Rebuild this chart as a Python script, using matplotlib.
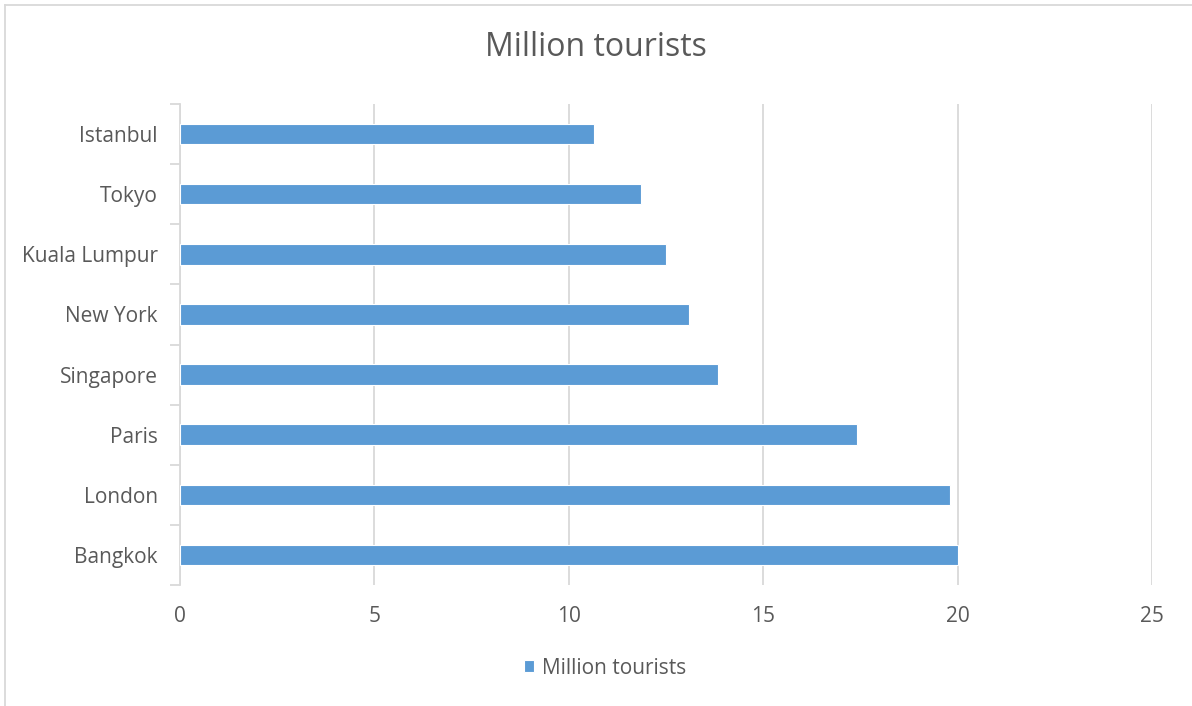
import matplotlib.pyplot as plt
from matplotlib.lines import Line2D

cities = ["Bangkok", "London", "Paris", "Singapore", "New York",
          "Kuala Lumpur", "Tokyo", "Istanbul"]
tourists = [20.0, 19.8, 17.4, 13.85, 13.1, 12.5, 11.85, 10.65]
x_ticks = [0, 5, 10, 15, 20, 25]

bar_color = "#5b9bd5"
text_color = "#595959"
grid_color = "#d9d9d9"

plt.rcParams['font.family'] = ['Open Sans', 'DejaVu Sans']

fig = plt.figure(figsize=(11.92, 7.06), dpi=100)
ax = fig.add_axes([180 / 1192, 1 - 585 / 706, 972 / 1192, 481 / 706])

pos = list(range(len(cities)))
ax.barh(pos, tourists, height=0.34, color=bar_color, edgecolor="white",
        linewidth=0.8, zorder=3, label="Million tourists")

ax.set_xlim(0, 25)
ax.set_ylim(-0.5, len(cities) - 0.5)
ax.set_xticks(x_ticks)
ax.set_xticklabels([str(t) for t in x_ticks])
ax.set_yticks(pos)
ax.set_yticklabels(cities)
ax.set_yticks([p - 0.5 for p in range(len(cities) + 1)], minor=True)

ax.grid(axis="x", color=grid_color, linewidth=1.3, zorder=0)
for s in ["top", "right", "bottom"]:
    ax.spines[s].set_visible(False)
ax.spines["left"].set_color(grid_color)
ax.spines["left"].set_linewidth(1.3)

ax.tick_params(axis="x", length=0, pad=15, labelsize=15, labelcolor=text_color)
ax.tick_params(axis="y", which="major", length=0, pad=16, labelsize=15,
               labelcolor=text_color)
ax.tick_params(axis="y", which="minor", length=7, width=1.3, color=grid_color)

fig.text(0.5, 1 - 48 / 706, "Million tourists", ha="center", va="center",
         fontsize=23, color=text_color)

leg = ax.legend(loc="center", bbox_to_anchor=(605 / 1192, 1 - 668 / 706),
                bbox_transform=fig.transFigure, frameon=False, fontsize=15,
                labelcolor=text_color, handlelength=0.5, handleheight=0.5,
                handletextpad=0.4)

# chart area border: only top and left edges show in the crop
x0, y0 = 5 / 1192, 1 - 5 / 706
fig.lines.append(Line2D([x0, 1], [y0, y0], transform=fig.transFigure,
                        color=grid_color, linewidth=1.3))
fig.lines.append(Line2D([x0, x0], [y0, 0], transform=fig.transFigure,
                        color=grid_color, linewidth=1.3))

fig.savefig("out.png", dpi=100)
